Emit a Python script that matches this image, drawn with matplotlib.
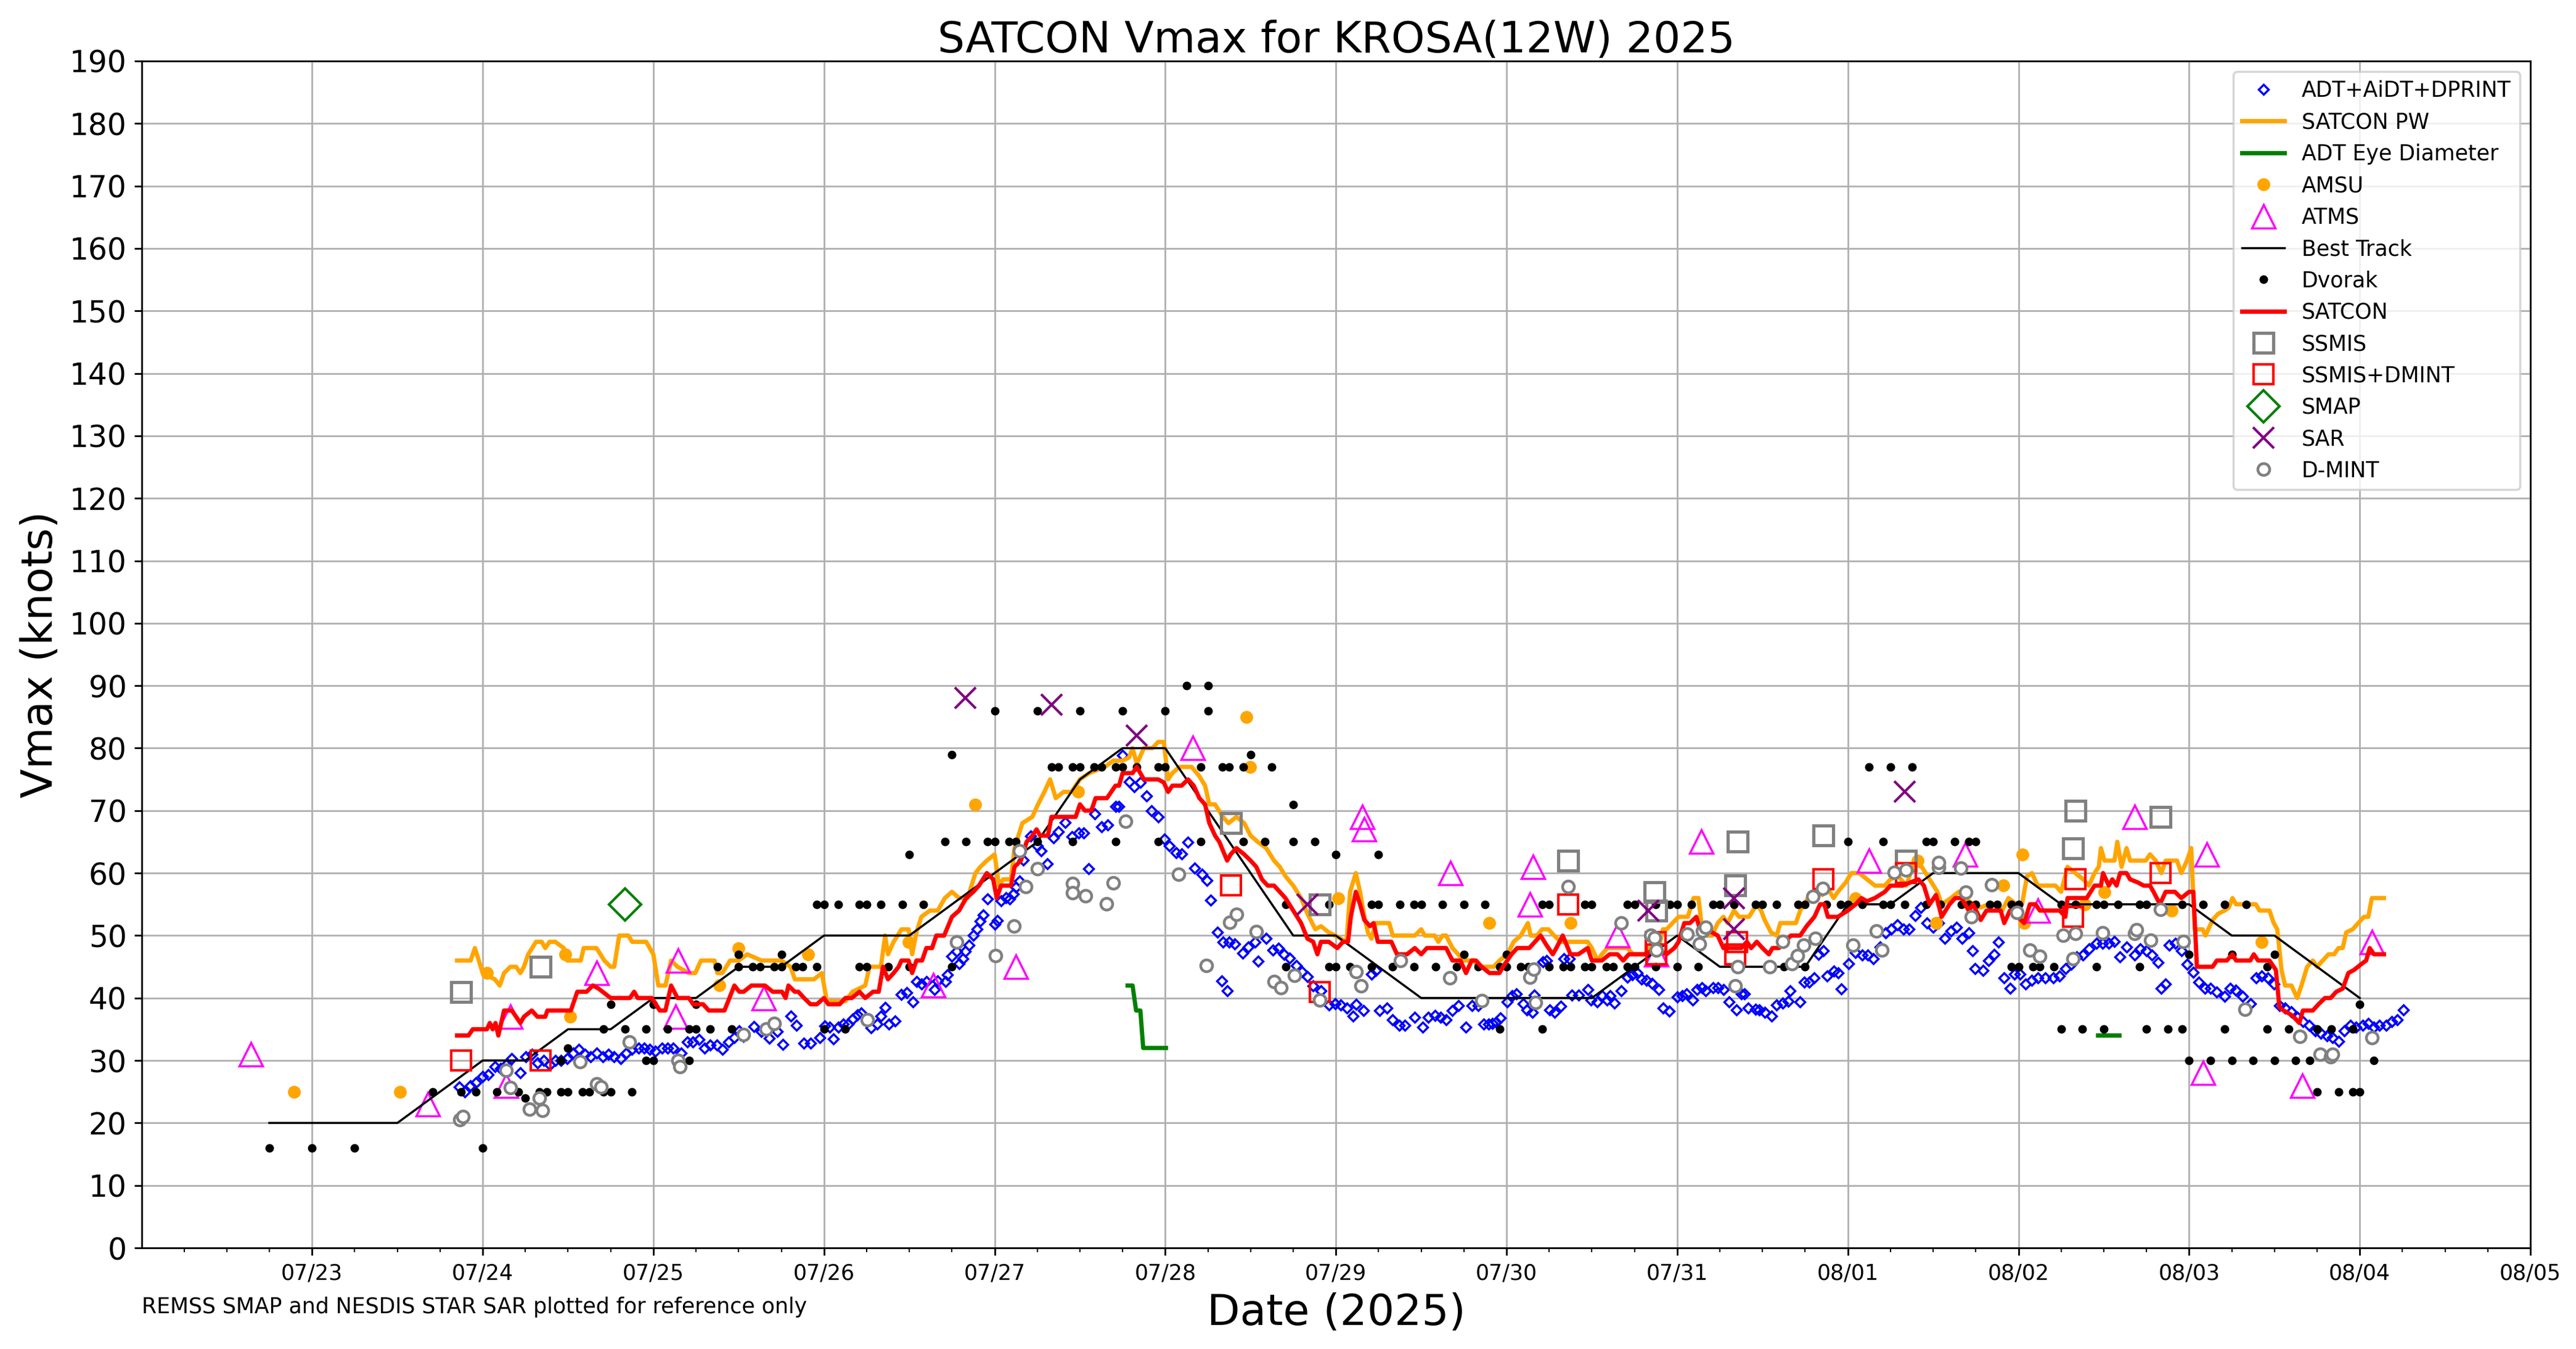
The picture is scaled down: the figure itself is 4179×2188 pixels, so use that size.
import numpy as np
import matplotlib
matplotlib.use("Agg")
import matplotlib.pyplot as plt
import matplotlib.dates as mdates

# all times are hours after 2025-07-22 00Z
base = np.datetime64("2025-07-22T00:00")

def to_time(hours):
    return base + (np.array(hours) * 60).round().astype("timedelta64[m]")

# Best Track
bt_hours = [18, 24, 30, 36, 42, 48, 54, 60, 66, 72, 78, 84, 90, 96, 102, 108, 114, 120, 126, 132,
            138, 144, 150, 156, 162, 168, 174, 180, 186, 192, 198, 204, 210, 216, 222, 228, 234,
            240, 246, 252, 258, 264, 270, 276, 282, 288, 294, 300, 306, 312]
bt_vmax = [20, 20, 20, 20, 25, 30, 30, 35, 35, 40, 40, 45, 45, 50, 50, 50, 55, 60, 65, 75,
           80, 80, 70, 60, 50, 50, 45, 40, 40, 40, 40, 40, 45, 50, 45, 45, 45,
           55, 55, 60, 60, 60, 55, 55, 55, 55, 50, 50, 45, 40]

# SATCON PW
pw_hours = [44.4, 46.3, 46.9, 48.0, 48.8, 49.7, 50.4, 51.0, 51.9, 52.7, 53.3, 53.8, 54.4, 55.5, 56.3,
            56.8, 57.4, 58.2, 59.4, 59.9, 61.8, 62.2, 64.0, 65.1, 66.0, 66.5, 67.2, 68.5, 69.0, 71.0,
            72.0, 72.7, 73.7, 74.5, 75.4, 77.0, 77.9, 78.7, 80.6, 81.0, 81.7, 82.8, 84.0, 85.2, 87.2,
            90.0, 91.3, 91.9, 94.6, 95.7, 96.4, 99.0, 100.0, 101.8, 102.4, 104.0, 104.6, 105.0, 105.8,
            106.9, 107.9, 108.4, 109.0, 109.7, 110.9, 112.0, 113.0, 114.0, 115.0, 116.2, 117.3, 118.0,
            118.9, 120.0, 120.6, 121.2, 122.3, 122.8, 123.9, 125.3, 126.1, 127.0, 127.8, 128.6, 129.7,
            130.8, 132.0, 133.3, 134.4, 135.5, 136.7, 138.0, 138.9, 139.4, 140.0, 141.0, 142.2, 143.0,
            143.8, 144.4, 145.0, 146.0, 147.7, 148.8, 149.6, 150.2, 151.0, 152.1, 152.9, 154.0, 155.1,
            156.0, 157.0, 158.2, 159.3, 160.1, 160.9, 162.0, 163.1, 164.0, 165.1, 165.9, 167.0, 167.9,
            168.7, 169.5, 170.0, 170.8, 171.4, 172.0, 172.5, 173.0, 173.6, 175.5, 176.0, 179.1, 180.0,
            180.5, 181.9, 182.4, 183.0, 183.5, 184.4, 186.0, 187.4, 188.0, 190.2, 191.0, 192.1, 193.0,
            194.0, 195.0, 195.4, 196.3, 197.0, 197.9, 198.7, 199.6, 203.4, 204.0, 204.8, 205.4, 206.2,
            209.0, 209.8, 211.5, 212.0, 213.4, 214.0, 214.5, 216.2, 217.5, 218.3, 219.0, 219.5, 220.0,
            220.9, 221.7, 222.5, 223.1, 224.0, 224.7, 226.1, 227.2, 227.8, 228.3, 229.2, 230.0, 230.5,
            232.7, 233.3, 234.4, 235.5, 236.4, 237.2, 238.0, 238.6, 239.7, 240.5, 241.6, 242.7, 243.8,
            245.2, 246.0, 247.1, 248.2, 249.3, 250.4, 251.5, 252.6, 253.2, 254.5, 255.6, 256.5, 257.6,
            258.7, 259.8, 260.6, 261.7, 262.6, 263.7, 264.5, 265.2, 265.9, 266.7, 269.2, 270.0, 270.9,
            272.0, 273.1, 273.9, 274.7, 275.3, 275.6, 276.1, 277.5, 277.9, 278.5, 279.2, 279.7, 281.9,
            282.5, 283.3, 284.1, 284.7, 286.3, 286.9, 287.7, 288.3, 288.8, 289.9, 290.3, 291.3, 292.1,
            293.0, 293.6, 294.1, 294.6, 297.4, 297.9, 299.3, 299.9, 300.4, 301.0, 301.5, 302.4, 303.2,
            303.8, 304.6, 305.4, 306.0, 306.8, 307.6, 308.4, 309.0, 309.6, 310.1, 311.0, 311.8, 312.6,
            313.2, 313.7, 315.4]
pw_vmax = [46, 46, 48, 44, 43.5, 43, 42, 44, 45, 45, 44, 45, 47, 49, 49,
           48, 49, 49, 48, 46, 46, 48, 48, 46, 45, 45, 50, 50, 49, 49,
           47, 42, 42, 46, 45, 44, 44, 46, 46, 44, 44, 46, 46, 47, 46,
           46, 45, 43, 43, 44, 39.5, 39.5, 41, 42, 45, 45, 50, 47, 49,
           51, 51, 47, 50.5, 53, 54, 54, 56, 57, 56, 56, 60, 61,
           62, 63, 58, 59, 59, 64, 68, 69, 71, 73, 75, 72, 73,
           73, 75, 76, 76.5, 77, 78, 78, 78.5, 80, 77.5, 80, 80, 81,
           81, 75, 76, 77, 77, 75.5, 74, 71, 71, 69, 68, 69, 68,
           66, 65, 64, 62, 61, 59.5, 58, 56, 53.5, 51, 51.5, 50.5, 50,
           49.5, 49, 57, 60, 57, 53, 50.5, 49.5, 52, 52, 50, 50, 51,
           50, 50, 49, 50, 50, 48, 46, 46, 45, 45, 46, 47, 49,
           50, 52, 50, 50, 51, 51, 50, 49, 49, 48, 46, 47, 48,
           48, 47, 47, 48, 48, 51, 51, 53, 53, 56, 56, 51, 50,
           50, 52, 53, 52, 54, 53, 53, 55, 54, 52.5, 50.5, 50, 52,
           52, 54, 56, 57, 56.5, 57.5, 56, 57, 58.5, 60, 60, 59, 58,
           58, 59, 59.5, 58, 61.5, 61, 59, 57, 55, 56, 57, 56, 55,
           54.5, 55, 55, 54, 56, 55, 55, 59.5, 60, 58, 58, 57, 61,
           60, 59, 58, 60, 61, 64, 62, 62, 65, 61, 64, 62, 62,
           63, 62, 60, 62, 62, 60, 62, 64, 51, 51, 50, 52.5, 53.5,
           54, 54.5, 56, 55, 55, 54, 54, 52, 51, 44.5, 42, 42, 40,
           42, 45, 46, 45, 46, 47, 47, 48, 48, 50.5, 51, 52, 53,
           53, 56, 56]

# SATCON
sc_hours = [44.4, 46.0, 46.6, 48.6, 49.0, 49.4, 49.8, 50.2, 51.0, 52.1, 53.3, 53.8, 54.9, 55.7, 56.8,
            57.1, 60.4, 61.3, 62.6, 63.5, 64.3, 66.0, 68.7, 69.3, 69.8, 71.8, 72.9, 73.7, 74.5, 75.4,
            77.0, 77.6, 79.0, 79.8, 82.0, 83.4, 84.1, 84.7, 85.8, 87.7, 88.8, 90.1, 90.6, 91.0, 91.9,
            92.4, 93.2, 94.1, 95.0, 96.0, 96.6, 98.2, 99.0, 99.9, 101.0, 101.8, 102.9, 103.7, 104.3,
            105.0, 105.8, 106.5, 106.9, 107.9, 108.4, 109.0, 109.8, 110.4, 111.2, 111.8, 112.9, 114.0,
            115.0, 116.0, 117.0, 117.8, 118.9, 119.8, 120.3, 120.9, 122.3, 122.8, 123.7, 124.5, 125.3,
            125.9, 126.4, 127.5, 128.0, 131.4, 132.0, 132.7, 133.6, 134.2, 135.8, 137.0, 137.5, 138.0,
            139.4, 140.0, 141.0, 143.0, 143.8, 144.4, 145.0, 146.3, 147.2, 148.0, 148.8, 149.6, 150.2,
            151.0, 151.6, 152.7, 153.2, 154.0, 155.1, 156.0, 156.8, 157.6, 158.4, 159.3, 160.1, 160.9,
            162.0, 163.1, 164.0, 164.8, 165.4, 165.9, 167.0, 168.2, 169.0, 169.7, 170.1, 170.8, 171.4,
            172.0, 172.8, 173.3, 173.9, 175.8, 176.6, 178.0, 179.1, 180.0, 180.8, 183.5, 184.4, 185.5,
            186.3, 187.1, 187.7, 188.5, 189.6, 191.0, 191.5, 192.7, 193.5, 195.2, 196.0, 196.8, 197.6,
            198.5, 199.0, 199.9, 201.0, 202.1, 203.4, 204.0, 205.4, 206.5, 207.6, 208.4, 209.2, 211.7,
            212.8, 214.5, 215.6, 216.2, 217.0, 217.8, 218.7, 219.2, 220.0, 220.9, 221.7, 222.5, 225.0,
            225.8, 226.4, 227.2, 228.0, 228.9, 229.4, 230.3, 231.1, 232.0, 233.3, 234.2, 235.3, 236.1,
            236.7, 237.2, 238.6, 240.0, 241.1, 241.9, 242.7, 243.8, 245.2, 246.0, 247.7, 248.8, 249.9,
            250.7, 251.5, 252.4, 253.2, 254.3, 255.1, 256.0, 257.0, 257.6, 258.7, 259.5, 261.5, 262.0,
            262.8, 263.9, 264.8, 265.6, 266.4, 267.0, 269.8, 270.6, 270.9, 273.6, 274.7, 275.6, 275.9,
            276.7, 277.2, 277.8, 278.3, 279.2, 279.7, 280.8, 281.6, 282.5, 283.0, 283.9, 284.7, 286.0,
            286.9, 288.0, 288.6, 289.1, 291.3, 291.9, 293.3, 294.1, 294.6, 296.6, 297.1, 297.7, 299.3,
            300.2, 300.7, 301.3, 302.1, 302.7, 303.5, 304.0, 305.4, 306.2, 307.1, 307.9, 308.7, 309.6,
            310.4, 311.2, 312.3, 312.9, 313.4, 314.0, 315.4]
sc_vmax = [34, 34, 35, 35, 36, 35, 36, 34, 38, 38, 36, 37, 38, 37, 37,
           38, 38, 41, 41, 42, 41.5, 40, 40, 41, 40, 40, 38, 38, 42, 40,
           40, 39, 39, 38, 38, 42, 41, 41, 42, 42, 41, 41, 40, 42, 41,
           41, 40, 39, 39, 40, 39, 39, 40, 40, 41, 40, 41, 41, 45,
           43, 44, 45, 46, 46, 44, 46, 46, 48, 48, 50, 50, 53,
           54, 56, 57, 58, 60, 59, 56, 58, 58, 61, 62, 65, 66,
           67, 66, 66, 69, 69, 71, 70, 70, 72, 72, 74, 74, 76,
           76, 77, 75, 75, 74.5, 73, 74, 74, 75, 74, 72, 71, 68,
           66, 65, 62, 63, 64, 63, 62, 61, 59, 58, 58, 57, 56,
           54, 52, 49.5, 49, 47, 49, 49, 48, 49, 49, 53, 57, 55,
           52.5, 51.5, 52, 49, 49, 47, 47, 48, 47, 48, 48, 46, 46,
           44, 46, 46, 45, 44, 44, 45, 47, 48, 48, 49, 50, 48.5,
           47, 48, 50, 47, 47, 48, 46, 46, 47, 47, 46, 47, 47,
           48, 47, 48, 49, 52, 52, 53, 51, 51.5, 50.5, 50, 48, 48,
           49, 48, 49, 48, 47, 48, 48, 49, 50, 50, 51.5, 53, 55,
           55, 53, 53, 54, 55, 56, 55.5, 56, 57, 58, 58, 58.5, 59,
           58, 55, 56.5, 53, 55, 56, 56, 54, 55, 52.5, 54, 54, 52,
           54, 53, 52, 55, 55, 54, 54, 53, 56, 56, 58, 58, 60,
           58, 59, 58, 60, 60, 59, 58.5, 58, 58, 57, 55, 57, 57,
           56, 57, 57, 45, 45, 46, 46, 47, 46, 46, 47, 46, 46,
           44.5, 38.5, 38, 37.5, 37, 36, 38, 38, 39, 40, 40, 41, 41.5,
           44, 44.5, 45.5, 46, 48, 47, 47]

# ADT+AiDT+DPRINT
adt_hours = [44.7, 45.5, 46.3, 47.0, 48.0, 48.8, 49.7, 50.5, 51.3, 52.1, 53.3, 54.1, 54.9, 55.7, 56.6,
             57.4, 58.2, 59.0, 59.9, 60.7, 61.5, 62.4, 63.2, 64.0, 64.9, 65.7, 66.5, 67.4, 68.2, 69.0,
             69.9, 70.7, 71.5, 72.3, 73.2, 74.0, 74.8, 75.9, 76.8, 77.6, 78.4, 79.2, 80.0, 80.9, 81.7,
             82.6, 83.4, 84.1, 84.7, 86.1, 87.2, 88.3, 89.4, 90.2, 91.3, 92.1, 93.2, 94.1,
             95.4, 96.1, 96.8, 97.3, 98.0, 98.7, 99.4, 100.0, 100.7, 101.2, 102.6, 103.5, 104.0, 104.6,
             105.1, 106.0, 106.9, 107.6, 108.5, 109.0, 109.7, 110.4, 111.5, 112.0, 113.1, 113.4, 114.0,
             114.7, 115.0, 115.5, 115.9, 116.4, 117.0, 117.5, 118.0, 118.4, 119.0, 120.0, 120.4, 120.9,
             121.6, 122.1, 122.6, 123.0, 123.5, 124.0, 125.1, 126.0, 126.5, 127.4, 128.3, 129.0, 129.9,
             130.9, 131.8, 132.5, 133.2, 134.1, 135.0, 135.9, 137.0, 137.5, 138.0, 138.9, 139.6, 140.5,
             141.4, 142.1, 143.0, 143.9, 144.6, 145.5, 146.3, 147.2, 148.1, 149.2, 149.9, 150.4,
             151.3, 151.9, 152.1, 152.7, 153.0, 153.8, 154.9, 155.7, 156.6, 157.1, 158.2, 159.1, 159.9,
             160.7, 161.5, 162.4, 163.2, 164.0, 164.8, 165.9, 167.0, 167.9, 168.7, 169.5, 170.4, 170.8,
             171.9, 173.0, 173.6, 174.1, 175.2, 176.0, 176.9, 177.7, 179.1, 180.2, 181.0, 181.9, 182.7,
             183.5, 184.4, 185.2, 186.3, 187.1, 188.0,
             188.8, 189.5, 190.0, 190.5, 191.1, 192.1, 192.8, 193.4, 194.3, 194.9, 195.6, 195.9, 197.1,
             197.6, 198.1, 198.8, 199.6, 200.1, 200.8, 201.2, 202.1, 203.4, 203.9, 204.7, 205.4, 206.1,
             206.6, 207.2, 208.1, 209.0, 209.7, 210.4, 211.0, 211.7, 212.5, 213.4, 214.0, 214.9, 216.0,
             216.7, 217.3, 218.2, 218.8, 219.5, 220.0, 221.0, 221.7, 222.5, 223.3, 224.3, 225.0, 225.5,
             226.0, 227.0, 227.5, 228.3, 229.3, 230.0, 230.8, 231.6, 231.9, 233.3, 233.9, 234.6, 235.3,
             235.9, 236.6, 237.1, 238.0, 238.6, 239.1, 240.1,
             241.1, 242.0, 242.8, 243.6, 244.5, 245.3, 246.1, 247.0, 247.8, 248.6, 249.5, 250.3, 251.1,
             252.0, 252.8, 253.6, 254.5, 255.3, 256.1, 257.0,
             257.5, 257.9, 259.0, 259.8, 260.6, 261.2, 262.0, 262.8, 263.4, 264.2,
             265.0, 265.9, 266.7, 267.8, 268.9, 269.8, 270.6, 271.4, 272.2, 273.1, 273.9, 275.0, 275.8,
             276.7, 277.5, 278.3, 279.2, 280.3, 281.1, 282.0, 282.8, 283.6, 284.1, 284.7, 285.2, 286.1,
             286.9, 287.7, 288.6, 289.4, 290.2, 291.0, 291.9, 293.0, 293.8, 294.6, 295.5, 296.6, 297.4,
             298.2, 299.1, 299.9, 300.7, 301.5, 302.4, 303.2, 304.0, 304.9, 305.7, 306.5, 307.4, 308.2,
             309.0, 309.8, 310.7, 311.5, 312.4, 313.2, 314.0, 314.8, 315.7, 316.5, 317.3, 318.1]
adt_vmax = [25.8, 25, 26, 26.5, 27.4, 27.7, 29, 28.7, 29.3, 30.3, 28, 30.6, 31, 29.6, 30,
            29.3, 30, 30, 30.3, 31.2, 31.8, 31, 30.6, 31.2, 30.6, 31, 30.6, 30.3, 31.2, 31.8,
            32, 32, 31.8, 31.5, 32, 32, 32, 31.2, 33, 33, 33.4, 32, 32.5, 32.5, 31.8,
            33, 33.7, 34.7, 33.9, 35.4, 34.6, 33.6, 34.6, 32.6, 37.1, 35.6, 32.8, 32.8,
            33.7, 35.5, 35.3, 33.5, 35.3, 35.8, 35.8, 36.6, 37.3, 37.6, 35.2, 35.8, 37.1, 38.5,
            35.8, 36.3, 40.6, 40.9, 39.4, 42.6, 42.2, 42.6, 41.4, 42.7, 42.6, 43.7, 46.7,
            47.5, 45.5, 46.3, 47.5, 48.5, 50, 51, 52.3, 53.3, 55.9, 51.8, 52.4, 55.6,
            56.1, 55.9, 56.7, 57.7, 58.7, 62.1, 65.9, 64.4, 63.6, 61.5, 65.6, 66.6, 68.1,
            65.8, 66.4, 66.4, 60.7, 69.5, 67.4, 67.7, 70.7, 70.7, 78.9, 74.6, 73.8, 74.5,
            72.3, 70, 69, 65.4, 64.4, 63.3, 63.1, 64.9, 60.8, 59.8, 58.8, 55.7,
            50.5, 42.7, 49, 41.2, 49, 48.7, 47.2, 48.2, 49, 45.9, 49.5, 47.7, 48,
            47, 46.4, 45.2, 44.2, 43.4, 41.9, 41.2, 38.9, 39.1, 38.9, 38.4, 37.1, 39,
            38, 43.8, 44.4, 38, 38.4, 36.5, 35.6, 35.6, 36.9, 35.3, 36.9, 37.2, 36.9,
            36.5, 38, 38.8, 35.3, 38.8, 38.8,
            35.8, 35.8, 35.9, 36.1, 36.8, 39.4, 40.4, 40.7, 39.1, 38.1, 37.7, 40.5, 45.8,
            46.0, 38.1, 37.7, 38.7, 46.3, 46.3, 40.5, 40.5, 41.4, 39.7, 39.4, 40.4, 39.7,
            40.4, 39.2, 41.2, 43.3, 43.7, 44.0, 43.0, 42.8, 42.3, 41.4, 38.4, 37.9, 40.2,
            40.4, 40.7, 39.7, 41.4, 41.7, 41.2, 41.7, 41.7, 41.4, 39.4, 38.1, 40.7, 40.7,
            38.4, 38.2, 38.1, 37.7, 37.1, 38.9, 39.2, 39.5, 41.2, 39.4, 42.5, 42.5, 43.2,
            47.0, 47.6, 43.5, 44.3, 44.0, 41.5, 45.5,
            47.3, 46.9, 46.9, 46.3, 48.2, 50.4, 51, 51.7, 51, 51, 53.2, 54.5, 52,
            51.3, 52, 49.5, 50.7, 51.3, 49.5, 50.4,
            47.6, 44.7, 44.4, 46, 47, 49, 43.2, 41.6, 43.8, 43.8,
            42.2, 42.8, 43.2, 43.2, 43.2, 43.5, 44.7, 45.4, 46.6, 46.9, 47.9, 48.8, 48.8,
            48.8, 49.1, 46.6, 48.2, 46.9, 47.9, 47.6, 46.9, 45.7, 41.6, 42.2, 48.5, 48.8,
            47.6, 45.4, 44.1, 42.5, 41.6, 41.6, 41, 40.3, 41.6, 41.3, 40.3, 39.1, 43.2,
            43.5, 43.2, 42.2, 38.8, 38.4, 37.8, 36.9, 36.2, 35.6, 34.7, 34.3, 34, 33.7,
            33.1, 34.7, 35.6, 35.3, 35.6, 35.9, 35.3, 35.6, 35.6, 36.2, 36.5, 38.1]

# ADT Eye Diameter (NaN splits the two pieces)
eye_hours = [138.7, 139.4, 139.9, 140.5, 140.9, 144.1, 144.1, 275.2, 278.2]
eye_vmax = [42, 42, 38, 38, 32, 32, np.nan, 34, 34]

# AMSU
amsu_hours = [21.5, 36.4, 48.6, 59.6, 60.3, 81.3, 84.0, 93.8, 107.9, 117.3, 131.7, 155.4, 155.9,
              168.3, 189.6, 201.0, 241.1, 249.8, 252.4, 261.9, 264.6, 264.8, 273.3, 276.1, 285.5, 298.2]
amsu_vmax = [25, 25, 44, 47, 37, 42, 48, 47, 49, 71, 73, 85, 77,
             56, 52, 52, 56, 62, 52, 58, 63, 52, 55, 57, 54, 49]

# ATMS
atms_hours = [15.4, 40.3, 51.3, 51.9, 64.0, 75.1, 75.5, 87.5, 111.4, 123.0, 147.9, 171.7, 172.0,
              184.1, 195.3, 195.7, 207.6, 213.1, 219.4, 243.0, 256.5, 266.7, 280.3, 290.5, 290.0,
              303.9, 313.7]
atms_vmax = [31, 23, 26, 37, 44, 37, 46, 40, 42, 45, 80, 69, 67,
             60, 55, 61, 50, 47, 65, 62, 63, 54, 69, 63, 28,
             26, 49]

# Dvorak
dv_hours = [18, 24, 30, 48, 41, 45, 47, 50, 53, 54, 56, 57, 59, 60, 62, 63, 65, 66, 69,
            59, 60, 65, 66, 68, 71, 71, 72, 72, 74, 77, 78, 77, 78, 80, 81, 83, 84, 84,
            90, 86, 87, 89, 90, 92, 93, 95, 101, 102, 105, 108, 114,
            95, 96, 98, 101, 102, 104, 107, 110, 108,
            113, 116, 119, 120, 122, 123, 126, 131, 137, 143, 149, 155, 158, 162, 165,
            114, 120, 126, 132, 138, 144, 150, 147, 150,
            128, 129, 131, 132, 134, 135, 137, 138, 140, 143, 144, 149, 152, 153, 155, 159,
            156, 162, 161, 167, 168, 170, 161, 167, 168, 96, 99,
            174, 173, 174, 177, 179, 180, 183, 186, 189, 197, 198, 203, 204, 209, 210, 213, 215,
            216, 218, 221, 222, 224, 227, 228, 230, 233, 234, 237, 239, 240, 242, 245, 246, 248,
            251, 253, 256,
            173, 176, 179, 182, 185, 186, 188, 191, 192, 192, 194, 195, 198, 200, 201, 203, 204,
            206, 207, 209, 210, 213, 216, 219, 231, 234, 191, 197,
            240, 245, 251, 252, 255, 257, 258, 243, 246, 249,
            257, 258, 260, 261, 263, 264, 270, 272, 275, 276, 278, 281, 282, 287, 290, 293, 296,
            263, 264, 266, 267, 269, 275, 281,
            270, 273, 276, 282, 285, 287, 293, 299, 302, 306, 308, 311,
            288, 294, 300, 299, 312,
            288, 291, 294, 297, 300, 303, 305, 314, 306, 309, 311, 312]
dv_vmax = [16, 16, 16, 16, 25, 25, 25, 25, 25, 24, 25, 25, 25, 25, 25, 25, 25, 25, 25,
           30, 32, 35, 39, 35, 35, 30, 30, 39, 35, 35, 35, 30, 39, 35, 45, 35, 45, 47,
           47, 45, 45, 45, 45, 45, 45, 45, 45, 45, 45, 45, 45,
           55, 55, 55, 55, 55, 55, 55, 55, 63,
           65, 65, 65, 65, 65, 65, 65, 65, 65, 65, 65, 65, 65, 65, 65,
           79, 86, 86, 86, 86, 86, 86, 90, 90,
           77, 77, 77, 77, 77, 77, 77, 77, 77, 77, 77, 77, 77, 77, 77, 77,
           79, 71, 45, 45, 45, 45, 55, 55, 63, 35, 35,
           63, 55, 55, 55, 55, 55, 55, 55, 55, 55, 55, 55, 55, 55, 55, 55, 55,
           55, 55, 55, 55, 55, 55, 55, 55, 55, 55, 55, 55, 55, 55, 55, 55, 55,
           55, 55, 55,
           45, 45, 45, 45, 45, 47, 45, 45, 45, 47, 45, 45, 45, 45, 45, 45, 45,
           45, 45, 45, 45, 45, 45, 45, 45, 45, 35, 35,
           65, 65, 65, 65, 65, 65, 65, 77, 77, 77,
           55, 55, 55, 55, 55, 55, 55, 55, 55, 55, 55, 55, 55, 55, 55, 55, 55,
           45, 45, 45, 45, 45, 45, 45,
           35, 35, 35, 35, 35, 35, 35, 35, 35, 35, 35, 35,
           47, 47, 47, 45, 39,
           30, 30, 30, 30, 30, 30, 30, 30, 25, 25, 25, 25]

# SSMIS and SSMIS+DMINT
ssmis_hours = [45.0, 56.1, 153.2, 165.7, 200.7, 212.8, 213.1, 224.2, 224.5, 236.6, 248.2, 271.7, 272.0, 284.0]
ssmis_vmax = [41, 45, 68, 55, 62, 57, 54, 58, 65, 66, 62, 64, 70, 69]
ssdm_hours = [45.0, 56.1, 153.2, 165.7, 200.7, 213.0, 213.1, 224.2, 224.4, 236.6, 248.2, 271.7, 272.0, 284.0]
ssdm_vmax = [30, 30, 58, 41, 55, 49, 47, 47, 49, 59, 60, 53, 59, 60]

# SMAP and SAR
smap_hours = [68.0]
smap_vmax = [55]
sar_hours = [115.9, 128.0, 140.0, 164.0, 211.9, 224.0, 224.0, 248.0]
sar_vmax = [88, 87, 82, 55, 54, 56, 51, 73]

# D-MINT
dm_hours = [44.8, 45.2, 51.3, 51.9, 54.6, 56.0, 56.4, 61.7, 64.0, 64.6, 68.6, 75.5, 75.7, 84.7, 87.9,
            89.0, 102.1, 114.7, 120.1, 122.7, 123.5, 124.4, 126.0, 131.0, 131.0, 132.8, 135.7, 136.7,
            138.4, 145.9, 149.8, 153.1, 154.0, 156.8, 159.3, 160.3, 162.2, 165.7, 170.8, 171.5, 177.1,
            184.0, 188.5, 195.3, 195.8, 196.1, 200.7, 208.1, 212.3, 212.8, 213.1, 217.4, 219.1, 219.6,
            220.0, 224.2, 224.5, 229.0, 230.8, 232.1, 232.9, 233.8, 235.1, 235.4, 236.5, 240.7, 244.0,
            244.8, 246.5, 248.2, 252.8, 252.8, 255.9, 256.6, 257.4, 260.2, 263.8, 265.6, 267.0, 270.3,
            271.7, 272.0, 275.8, 280.3, 280.6, 282.6, 284.0, 287.2, 295.9, 303.6, 306.4, 307.9, 308.2,
            313.7]
dm_vmax = [20.5, 21, 28.4, 25.7, 22.2, 24, 22, 29.8, 26.3, 25.8, 33, 30, 29, 34.2, 35,
           35.9, 36.5, 49, 46.8, 51.5, 63.6, 57.8, 60.7, 58.3, 56.9, 56.4, 55.1, 58.4,
           68.3, 59.8, 45.2, 52.1, 53.4, 50.6, 42.6, 41.7, 43.6, 39.7, 44.2, 41.9, 46,
           43.2, 39.6, 43.3, 44.6, 39.3, 57.8, 52, 50, 49.6, 47.7, 50.2, 48.7, 50.7,
           51.3, 41.9, 45, 45, 49.1, 45.5, 46.8, 48.5, 56.3, 49.5, 57.5, 48.5, 50.7,
           47.7, 60.1, 60.5, 60.9, 61.7, 60.8, 57, 53, 58.1, 53.7, 47.7, 46.7, 50,
           46.3, 50.3, 50.4, 50.3, 50.9, 49.3, 54.2, 49.1, 38.2, 33.9, 31, 30.6, 31,
           33.7]

fig = plt.figure(figsize=(4179 / 250, 2188 / 250), dpi=250)
ax = fig.add_axes([230 / 4179, 1 - 2024 / 2188, (4105 - 230) / 4179, (2024 - 99) / 2188])

ax.plot(to_time(adt_hours), adt_vmax, linestyle="none", marker="D", ms=3.2, mfc="none",
        mec="blue", mew=1.0, label="ADT+AiDT+DPRINT")
ax.plot(to_time(pw_hours), pw_vmax, color="orange", lw=2, label="SATCON PW")
ax.plot(to_time(eye_hours), eye_vmax, color="green", lw=2, label="ADT Eye Diameter")
ax.plot(to_time(amsu_hours), amsu_vmax, linestyle="none", marker="o", ms=5, color="orange", label="AMSU")
ax.plot(to_time(atms_hours), atms_vmax, linestyle="none", marker="^", ms=11, mfc="none",
        mec="magenta", label="ATMS")
ax.plot(to_time(bt_hours), bt_vmax, color="black", lw=1, label="Best Track")
ax.plot(to_time(dv_hours), dv_vmax, linestyle="none", marker="o", ms=3, color="black", label="Dvorak")
ax.plot(to_time(sc_hours), sc_vmax, color="red", lw=2, label="SATCON")
ax.plot(to_time(ssmis_hours), ssmis_vmax, linestyle="none", marker="s", ms=9, mfc="none",
        mec="gray", mew=1.5, label="SSMIS")
ax.plot(to_time(ssdm_hours), ssdm_vmax, linestyle="none", marker="s", ms=9, mfc="none",
        mec="red", mew=1.2, label="SSMIS+DMINT")
ax.plot(to_time(smap_hours), smap_vmax, linestyle="none", marker="D", ms=10.5, mfc="none",
        mec="green", mew=1.2, label="SMAP")
ax.plot(to_time(sar_hours), sar_vmax, linestyle="none", marker="x", ms=10, color="purple",
        mew=1.2, label="SAR")
ax.plot(to_time(dm_hours), dm_vmax, linestyle="none", marker="o", ms=5.5, mfc="white",
        mec="gray", mew=1.3, label="D-MINT")

ax.set_xlim(np.datetime64("2025-07-22T00:03"), np.datetime64("2025-08-05T00:00"))
ax.set_ylim(0, 190)
ax.set_yticks(np.arange(0, 200, 10))
ax.tick_params(axis="y", labelsize=14)
ax.tick_params(axis="x", labelsize=10)
ax.xaxis.set_major_locator(mdates.DayLocator())
ax.xaxis.set_major_formatter(mdates.DateFormatter("%m/%d"))
ax.xaxis.set_minor_locator(mdates.HourLocator(byhour=[6, 12, 18]))
ax.grid(True, color="#b0b0b0", lw=0.8)

ax.set_title("SATCON Vmax for KROSA(12W) 2025", fontsize=20, pad=4)
ax.set_xlabel("Date (2025)", fontsize=20)
ax.set_ylabel("Vmax (knots)", fontsize=20)
ax.legend(loc="upper right", fontsize=10)
fig.text(230 / 4179, 1 - 2130 / 2188, "REMSS SMAP and NESDIS STAR SAR plotted for reference only",
         fontsize=10, va="baseline", ha="left")

fig.savefig("out.png", dpi=250)
